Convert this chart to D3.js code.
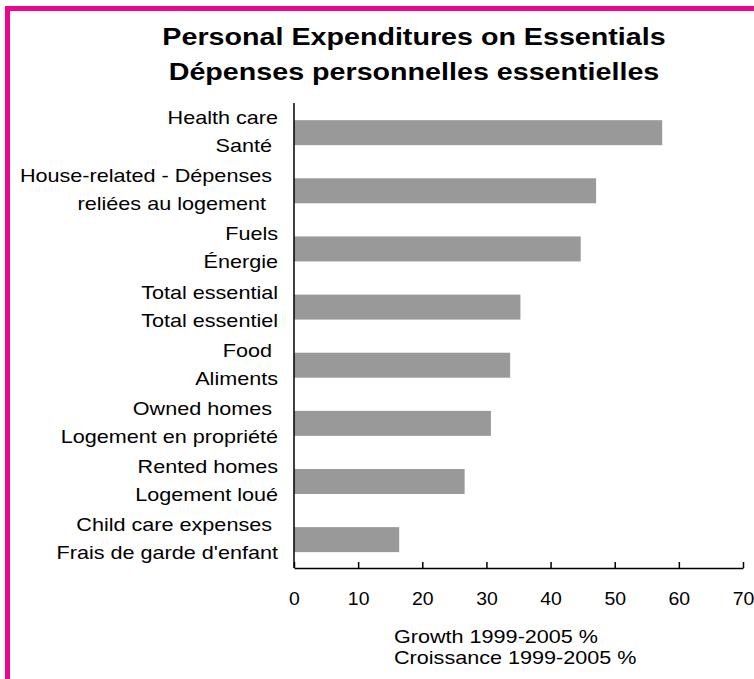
<!DOCTYPE html>
<html>
<head>
<meta charset="utf-8">
<script src="https://cdn.jsdelivr.net/npm/d3@7"></script>
<style>
  html, body { margin: 0; padding: 0; background: #fff; }
  svg { display: block; }
  text { font-family: "Liberation Sans", Arial, sans-serif; fill: #000; white-space: pre; }
</style>
</head>
<body>
<svg id="chart" width="754" height="679"></svg>
<script>
const titleLines = ["Personal Expenditures on Essentials", "Dépenses personnelles essentielles"];
const categoriesEn = ["Health care", "House-related - Dépenses ", "Fuels", "Total essential", "Food ", "Owned homes ", "Rented homes", "Child care expenses "];
const categoriesFr = ["Santé ", "reliées au logement  ", "Énergie", "Total essentiel", "Aliments", "Logement en propriété", "Logement loué", "Frais de garde d'enfant"];
const values = [57.4, 47.1, 44.7, 35.3, 33.7, 30.7, 26.6, 16.4];
const xTicks = [0, 10, 20, 30, 40, 50, 60, 70];
const axisTitleLines = ["Growth 1999-2005 %", "Croissance 1999-2005 %"];

const svg = d3.select("#chart");
const pink = "#ec068d";
const sx = 1.2; // horizontal stretch of the reference text

// frame
svg.append("line").attr("x1", 5).attr("x2", 754).attr("y1", 8.5).attr("y2", 8.5)
  .attr("stroke", pink).attr("stroke-width", 5);
svg.append("line").attr("x1", 7.5).attr("x2", 7.5).attr("y1", 6).attr("y2", 679)
  .attr("stroke", pink).attr("stroke-width", 5);

const ids = d3.range(values.length);
const x = d3.scaleLinear().domain([0, 70]).range([294, 743]);
const y = d3.scaleBand().domain(ids).range([103.6, 568.7]).paddingInner(0.57).paddingOuter(0.285);

// title
svg.append("g").selectAll("text").data(titleLines).join("text")
  .attr("transform", (d, i) => `translate(414,${45 + i * 35}) scale(1.17,1)`)
  .attr("text-anchor", "middle").attr("font-weight", "bold").attr("font-size", 24.5)
  .text(d => d);

// bars
svg.append("g").selectAll("rect").data(ids).join("rect")
  .attr("x", x(0)).attr("y", i => y(i))
  .attr("width", i => x(values[i]) - x(0)).attr("height", y.bandwidth())
  .attr("fill", "#999999");

// category labels
const lab = svg.append("g").attr("font-size", 18).attr("text-anchor", "end");
lab.selectAll("text.en").data(ids).join("text").attr("class", "en")
  .attr("transform", i => `translate(278,${y(i) + y.bandwidth() / 2 - 8.5}) scale(${sx},1)`)
  .text(i => categoriesEn[i]);
lab.selectAll("text.fr").data(ids).join("text").attr("class", "fr")
  .attr("transform", i => `translate(278,${y(i) + y.bandwidth() / 2 + 19.5}) scale(${sx},1)`)
  .text(i => categoriesFr[i]);

// y axis line
svg.append("line").attr("x1", x(0)).attr("x2", x(0))
  .attr("y1", y.range()[0] - 0.5).attr("y2", 568)
  .attr("stroke", "#000").attr("stroke-width", 1.5);

// x axis
const xAxis = d3.axisBottom(x).tickValues(xTicks).tickSizeInner(-6).tickSizeOuter(0).tickPadding(24);
const gx = svg.append("g").attr("transform", "translate(0,568)").call(xAxis);
gx.select(".domain").attr("stroke", "#000").attr("stroke-width", 1.5);
gx.selectAll(".tick line").attr("stroke", "#000").attr("stroke-width", 1.5);
gx.selectAll(".tick text").attr("font-size", 18).attr("font-family", "Liberation Sans, Arial, sans-serif")
  .attr("fill", "#000").attr("transform", "scale(1.08,1)");

// axis title
svg.append("g").selectAll("text").data(axisTitleLines).join("text")
  .attr("transform", (d, i) => `translate(394,${643 + i * 21}) scale(${sx},1)`)
  .attr("font-size", 18)
  .text(d => d);
</script>
</body>
</html>
